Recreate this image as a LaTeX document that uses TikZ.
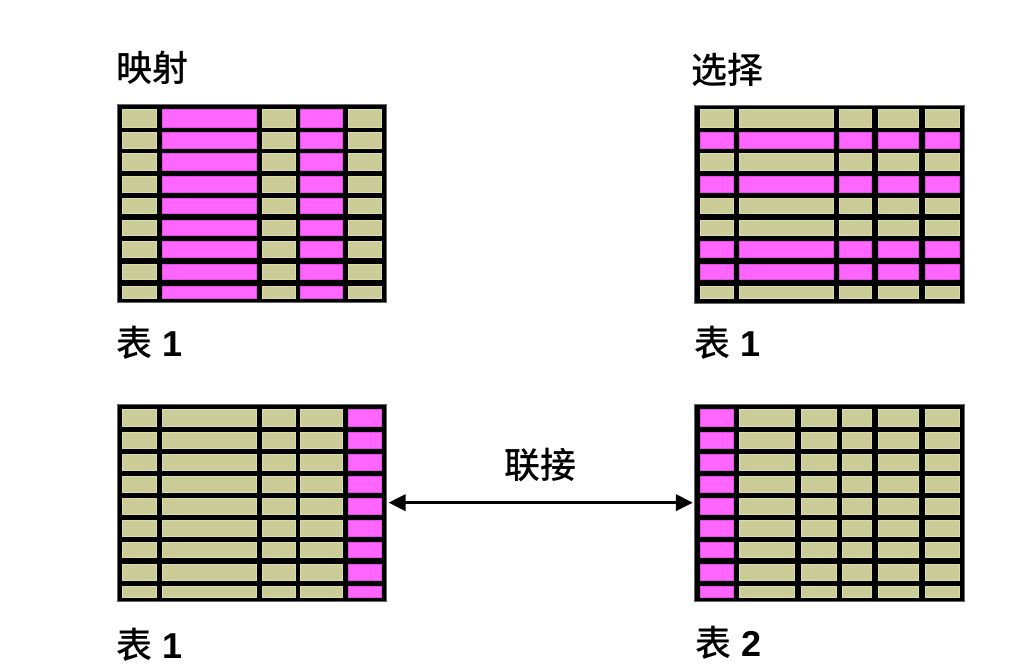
\documentclass[tikz,border=0pt]{standalone}
\usepackage{fontspec}
\usetikzlibrary{arrows.meta}
\newfontfamily\cjk{Noto Sans CJK SC}[BoldFont={Noto Sans CJK SC Medium}]
\newfontfamily\arialf{Liberation Sans}
\definecolor{cellol}{HTML}{CCCC99}
\definecolor{cellolb}{HTML}{DCDCAA}
\definecolor{cellmg}{HTML}{FF66FF}
\definecolor{cellmgb}{HTML}{E050E0}
\tikzset{
  tablebox/.style={fill=black, draw=black!60, line width=0.6pt, inner sep=0pt, minimum width=269.4pt, minimum height=198pt},
  lbl/.style={font=\cjk\bfseries\fontsize{36}{40}\selectfont, inner sep=0pt, text=black},
}
% cell: #1 fill colour, #2 border colour, corners
\newcommand\mycell[6]{%
  \fill[#1] (#3,#4) rectangle (#5,#6);
  \draw[#2, line width=0.8pt] ({#3+0.5},{#4+0.5}) rectangle ({#5-0.5},{#6-0.5});
}
\newcommand\mynum[1]{{\arialf\bfseries #1}}
\def\rowsTop{108.5/127.5, 131.5/148.5, 153/170.5, 176/192.5, 197.5/214, 219.5/236, 241/258, 263.5/280, 285.5/298.5}
\def\rowsBot{409/427, 431.5/448.5, 453.5/470.5, 476/493, 497.5/514.5, 519.5/536.5, 541.5/558, 563.5/580.5, 585.5/598}
\def\colsL{121.7/156.7, 161.7/256.7, 262.3/295.7, 300.3/342.7, 348.3/382.3}
\def\colsR{699.7/733.7, 738.7/833.7, 838.7/872.3, 878/919.3, 924.7/960}
\def\colsRB{699.7/733.7, 738.7/795.3, 800.7/836.7, 842.3/872.3, 878/919.3, 924.7/960}
\begin{document}
\begin{tikzpicture}[x=1pt, y=-1pt]
\useasboundingbox[fill=white] (0,0) rectangle (1024,667);

% titles
\node[lbl, anchor=west] (tmap) at (116,68) {映射};
\node[lbl, anchor=west] (tsel) at (691,70) {选择};
\node[lbl] (tjoin) at (540,465) {联接};

% table 1 (projection)
\node[tablebox] (t1) at (252,203.3) {};
\foreach \ya/\yb in \rowsTop {
  \foreach \xa/\xb [count=\ci] in \colsL {
    \def\fc{cellol}\def\bc{cellolb}
    \ifnum\ci=2 \def\fc{cellmg}\def\bc{cellmgb}\fi
    \ifnum\ci=4 \def\fc{cellmg}\def\bc{cellmgb}\fi
    \mycell{\fc}{\bc}{\xa}{\ya}{\xb}{\yb}
  }
}
\node[lbl, anchor=west] (l1) at (116,343) {表\hspace{10pt}\mynum{1}};

% table 1 (selection)
\node[tablebox, minimum width=270.7pt] (t2) at (829.35,203.8) {};
\foreach \ya/\yb [count=\ri] in \rowsTop {
  \foreach \xa/\xb in \colsR {
    \def\fc{cellol}\def\bc{cellolb}
    \ifnum\ri=2 \def\fc{cellmg}\def\bc{cellmgb}\fi
    \ifnum\ri=4 \def\fc{cellmg}\def\bc{cellmgb}\fi
    \ifnum\ri=7 \def\fc{cellmg}\def\bc{cellmgb}\fi
    \ifnum\ri=8 \def\fc{cellmg}\def\bc{cellmgb}\fi
    \mycell{\fc}{\bc}{\xa}{\ya}{\xb}{\yb}
  }
}
\node[lbl, anchor=west] (l2) at (694,343) {表\hspace{10pt}\mynum{1}};

% table 1 (join, left)
\node[tablebox, minimum height=197.3pt] (t3) at (252,502.65) {};
\foreach \ya/\yb in \rowsBot {
  \foreach \xa/\xb [count=\ci] in \colsL {
    \def\fc{cellol}\def\bc{cellolb}
    \ifnum\ci=5 \def\fc{cellmg}\def\bc{cellmgb}\fi
    \mycell{\fc}{\bc}{\xa}{\ya}{\xb}{\yb}
  }
}
\node[lbl, anchor=west] (l3) at (116,645) {表\hspace{10pt}\mynum{1}};

% table 2 (join, right)
\node[tablebox, minimum width=270pt, minimum height=197.3pt] (t4) at (829.7,502.65) {};
\foreach \ya/\yb in \rowsBot {
  \foreach \xa/\xb [count=\ci] in \colsRB {
    \def\fc{cellol}\def\bc{cellolb}
    \ifnum\ci=1 \def\fc{cellmg}\def\bc{cellmgb}\fi
    \mycell{\fc}{\bc}{\xa}{\ya}{\xb}{\yb}
  }
}
\node[lbl, anchor=west] (l4) at (695,643) {表\hspace{10pt}\mynum{2}};

% join arrow
\draw[{Triangle[length=17pt,width=16pt]}-{Triangle[length=17pt,width=16pt]}, line width=3.5pt]
  ([xshift=1.5pt]t3.east) -- ([xshift=-1.5pt]t4.west);
\end{tikzpicture}
\end{document}
